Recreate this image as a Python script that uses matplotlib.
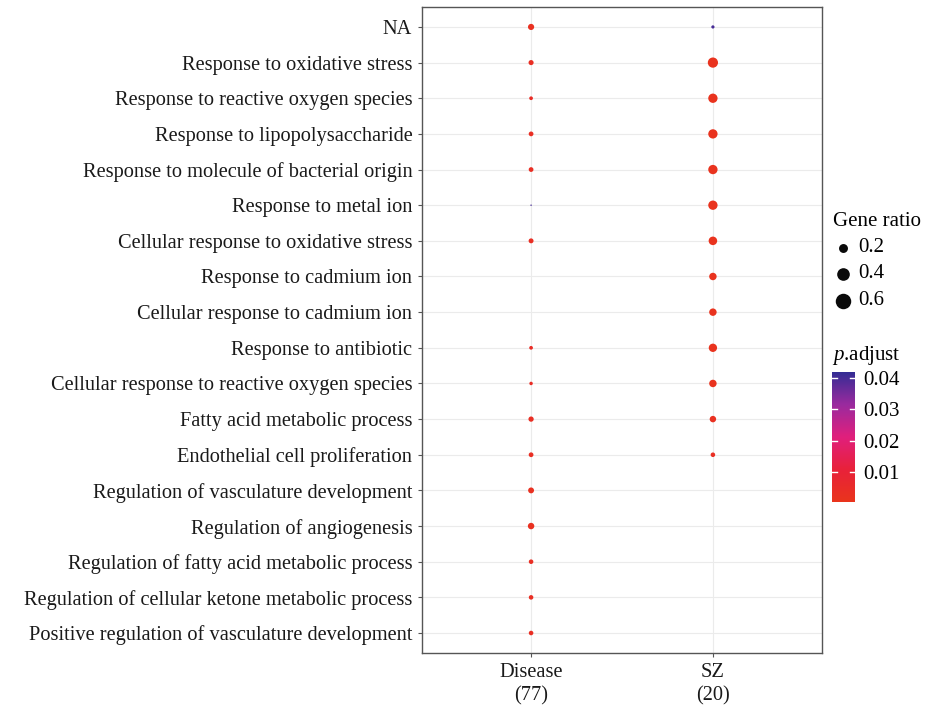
import numpy as np
import matplotlib
matplotlib.use("Agg")
import matplotlib.pyplot as plt
from matplotlib.colors import LinearSegmentedColormap, Normalize

plt.rcParams['font.family'] = ['Liberation Serif', 'DejaVu Serif']
plt.rcParams['mathtext.fontset'] = 'custom'
plt.rcParams['mathtext.rm'] = 'Liberation Serif'
plt.rcParams['mathtext.it'] = 'Liberation Serif:italic'

# ---- data ----
TERMS = [
    "NA",
    "Response to oxidative stress",
    "Response to reactive oxygen species",
    "Response to lipopolysaccharide",
    "Response to molecule of bacterial origin",
    "Response to metal ion",
    "Cellular response to oxidative stress",
    "Response to cadmium ion",
    "Cellular response to cadmium ion",
    "Response to antibiotic",
    "Cellular response to reactive oxygen species",
    "Fatty acid metabolic process",
    "Endothelial cell proliferation",
    "Regulation of vasculature development",
    "Regulation of angiogenesis",
    "Regulation of fatty acid metabolic process",
    "Regulation of cellular ketone metabolic process",
    "Positive regulation of vasculature development",
]
GROUPS = ["Disease\n(77)", "SZ\n(20)"]

# gene ratio per term (None = not enriched)
disease_ratio = [0.11, 0.075, 0.04, 0.065, 0.065, 0.006, 0.07, None, None,
                 0.04, 0.035, 0.08, 0.065, 0.10, 0.12, 0.06, 0.06, 0.06]
sz_ratio = [0.03, 0.30, 0.25, 0.25, 0.25, 0.25, 0.21, 0.16, 0.16,
            0.20, 0.16, 0.12, 0.06, None, None, None, None, None]

disease_padj = [0.002, 0.003, 0.004, 0.003, 0.003, 0.040, 0.003, None, None,
                0.004, 0.004, 0.003, 0.003, 0.002, 0.002, 0.003, 0.003, 0.003]
sz_padj = [0.040, 0.001, 0.001, 0.001, 0.001, 0.001, 0.001, 0.001, 0.001,
           0.001, 0.001, 0.002, 0.003, None, None, None, None, None]

LEGEND_RATIOS = [0.2, 0.4, 0.6]
CBAR_TICKS = [0.01, 0.02, 0.03, 0.04]

SIZE_K = 180  # points^2 per unit of gene ratio
cmap = LinearSegmentedColormap.from_list(
    "padj", [(0, "#E9341C"), (0.25, "#E8213A"), (0.5, "#E01F7C"),
             (0.75, "#9A2A9E"), (1, "#342C94")])
norm = Normalize(vmin=0.0003, vmax=0.042)

fig = plt.figure(figsize=(9.26, 7.12), dpi=100)
ax = fig.add_axes([0.4557, 0.0829, 0.432, 0.9073])

n = len(TERMS)
ypos = np.arange(n)[::-1]
for gi, (ratios, padj) in enumerate([(disease_ratio, disease_padj),
                                     (sz_ratio, sz_padj)]):
    xs, ys, ss, cs = [], [], [], []
    for i in range(n):
        if ratios[i] is None:
            continue
        xs.append(gi + 1)
        ys.append(ypos[i])
        ss.append(ratios[i] * SIZE_K)
        cs.append(padj[i])
    ax.scatter(xs, ys, s=ss, c=cs, cmap=cmap, norm=norm, linewidths=0, zorder=3)

ax.set_xlim(0.4, 2.6)
ax.set_ylim(-0.56, n - 1 + 0.56)
ax.set_yticks(ypos)
ax.set_yticklabels(TERMS, fontsize=14.7, color='#1a1a1a')
ax.set_xticks([1, 2])
ax.set_xticklabels(GROUPS, fontsize=14.7, color='#1a1a1a', linespacing=1.35)
ax.grid(True, color='#ebebeb', linewidth=0.8, zorder=0)
ax.set_axisbelow(True)
for sp in ax.spines.values():
    sp.set_color('#555555')
    sp.set_linewidth(1.0)
ax.tick_params(axis='both', length=3, width=0.8, color='#555555', pad=4)

# ---- size legend ----
fig.text(833 / 926, 1 - 222 / 712, "Gene ratio", fontsize=15, va='center', ha='left')
lax = fig.add_axes([833 / 926, 1 - 315 / 712, 80 / 926, 80 / 712])
lax.set_xlim(0, 80)
lax.set_ylim(80, 0)
lax.axis('off')
for r, yy in zip(LEGEND_RATIOS, [248, 274, 301]):
    lax.scatter(10, yy - 235, s=r * SIZE_K * 1.15, color='#0a0a0a', linewidths=0)
    lax.text(25, yy - 235, f"{r}", fontsize=15, va='center', ha='left')

# ---- colour bar ----
fig.text(832 / 926, 1 - 355 / 712, r"$\it{p}$.adjust", fontsize=15, va='center', ha='left')
cax = fig.add_axes([832 / 926, 1 - 502 / 712, 23 / 926, 130 / 712])
sm = plt.cm.ScalarMappable(norm=norm, cmap=cmap)
cb = fig.colorbar(sm, cax=cax, ticks=CBAR_TICKS)
cb.outline.set_visible(False)
cb.ax.tick_params(length=0, labelsize=15, pad=6)
cb.ax.set_yticklabels([f"{t:.2f}" for t in CBAR_TICKS])
for t in CBAR_TICKS:
    cax.plot([0, 0.22], [t, t], color='white', lw=1)
    cax.plot([0.78, 1], [t, t], color='white', lw=1)

fig.savefig("out.png", dpi=100)
